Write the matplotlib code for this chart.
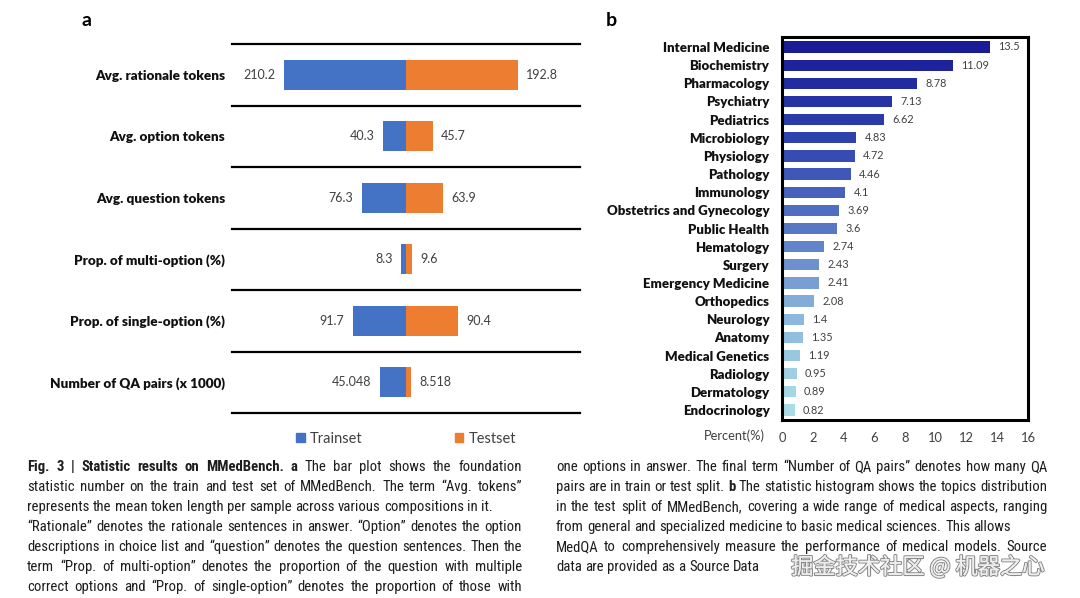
import matplotlib
matplotlib.use("Agg")
import matplotlib.pyplot as plt
import matplotlib.patheffects as pe
from matplotlib.patches import Patch
from matplotlib.colors import LinearSegmentedColormap
from matplotlib import font_manager
import numpy as np

# ---- panel a data
stat_names = ['Avg. rationale tokens', 'Avg. option tokens', 'Avg. question tokens',
              'Prop. of multi-option (%)', 'Prop. of single-option (%)',
              'Number of QA pairs (x 1000)']
train_vals = [210.2, 40.3, 76.3, 8.3, 91.7, 45.048]
test_vals = [192.8, 45.7, 63.9, 9.6, 90.4, 8.518]
series_names = ['Trainset', 'Testset']

# ---- panel b data
topics = ['Internal Medicine', 'Biochemistry', 'Pharmacology', 'Psychiatry', 'Pediatrics',
          'Microbiology', 'Physiology', 'Pathology', 'Immunology',
          'Obstetrics and Gynecology', 'Public Health', 'Hematology', 'Surgery',
          'Emergency Medicine', 'Orthopedics', 'Neurology', 'Anatomy',
          'Medical Genetics', 'Radiology', 'Dermatology', 'Endocrinology']
percents = [13.5, 11.09, 8.78, 7.13, 6.62, 4.83, 4.72, 4.46, 4.1, 3.69, 3.6,
            2.74, 2.43, 2.41, 2.08, 1.4, 1.35, 1.19, 0.95, 0.89, 0.82]
pct_ticks = [0, 2, 4, 6, 8, 10, 12, 14, 16]

# ---- caption (segments: text, bold)
caption_left = [
    [("Fig. 3 | Statistic results on MMedBench. a", True), ("The bar plot shows the foundation", False)],
    [("statistic number on the train and test set of MMedBench. The term \u201cAvg. tokens\u201d", False)],
    [("represents the mean token length per sample across various compositions in it.", False)],
    [("\u201cRationale\u201d denotes the rationale sentences in answer. \u201cOption\u201d denotes the option", False)],
    [("descriptions in choice list and \u201cquestion\u201d denotes the question sentences. Then the", False)],
    [("term \u201cProp. of multi-option\u201d denotes the proportion of the question with multiple", False)],
    [("correct options and \u201cProp. of single-option\u201d denotes the proportion of those with", False)],
]
caption_right = [
    [("one options in answer. The final term \u201cNumber of QA pairs\u201d denotes how many QA", False)],
    [("pairs are in train or test split.", False), ("b", True), ("The statistic histogram shows the topics distribution", False)],
    [("in the test split of MMedBench, covering a wide range of medical aspects, ranging", False)],
    [("from general and specialized medicine to basic medical sciences. This allows", False)],
    [("MedQA to comprehensively measure the performance of medical models. Source", False)],
    [("data are provided as a Source Data", False)],
]
watermark = "\u6398\u91d1\u6280\u672f\u793e\u533a @ \u673a\u5668\u4e4b\u5fc3"

W, H = 1080, 598
FONT = 'Lato'
TXT = '#404040'
BLUE, ORANGE = '#4472C4', '#ED7D31'

# a narrower face suits the caption better, if one is around
fonts = font_manager.fontManager.ttflist
names = {f.name for f in fonts}
CAP_FONT, CAP_STRETCH = 'Lato', 'normal'
for cand in ['Roboto Condensed', 'Liberation Sans Narrow', 'Open Sans Condensed']:
    if cand in names:
        CAP_FONT = cand
        break
else:
    for f in fonts:
        if f.name == 'DejaVu Sans' and f.stretch in ('condensed', 'semi-condensed'):
            CAP_FONT, CAP_STRETCH = 'DejaVu Sans', 'condensed'
            break

plt.rcParams['font.family'] = [FONT, 'DejaVu Sans']
fig = plt.figure(figsize=(W / 100, H / 100), dpi=100)
fig.patch.set_facecolor('white')


def box(x0, y0, x1, y1):
    return [x0 / W, 1 - y1 / H, (x1 - x0) / W, (y1 - y0) / H]


# ================= panel a =================
ax = fig.add_axes(box(232, 44, 580, 413))
y = np.arange(len(stat_names))
ax.barh(y, [-v for v in train_vals], height=0.48, color=BLUE)
ax.barh(y, test_vals, height=0.48, color=ORANGE)
for i in range(len(stat_names)):
    ax.annotate(str(train_vals[i]), (-train_vals[i], i), xytext=(-6, 0), textcoords='offset points',
                ha='right', va='center', fontsize=9, color=TXT)
    ax.annotate(str(test_vals[i]), (test_vals[i], i), xytext=(6, 0), textcoords='offset points',
                ha='left', va='center', fontsize=9, color=TXT)
for k in range(len(stat_names) + 1):
    ax.axhline(k - 0.5, color='black', lw=1.6, clip_on=False)
ax.set_xlim(-300, 300)
ax.set_ylim(len(stat_names) - 0.5, -0.5)
ax.set_yticks(y)
ax.set_yticklabels(stat_names, fontsize=9.7, fontweight='heavy', color='#111111')
ax.tick_params(axis='y', length=0, pad=5)
ax.set_xticks([])
for s in ax.spines.values():
    s.set_visible(False)
ax.legend([Patch(color=BLUE), Patch(color=ORANGE)], series_names, loc='upper center',
          bbox_to_anchor=(0.5, -0.015), ncol=2, frameon=False, fontsize=10.5,
          handlelength=0.6, handleheight=0.6, handletextpad=0.35, columnspacing=6.3,
          labelcolor=TXT)
fig.text(86 / W, 1 - 20 / H, 'a', fontsize=14, fontweight='bold', ha='center', va='center')

# ================= panel b =================
bx = fig.add_axes(box(782, 37, 1028, 420))
cmap = LinearSegmentedColormap.from_list('blues', ['#1A1C97', '#2E42AE', '#5877C6', '#8DB8DD', '#A9DDE4'])
cols = [cmap(i / (len(topics) - 1)) for i in range(len(topics))]
yb = np.arange(len(topics))
bx.barh(yb, percents, height=0.62, color=cols)
for i, v in enumerate(percents):
    bx.annotate(str(v), (v, i), xytext=(6, 0), textcoords='offset points',
                ha='left', va='center', fontsize=7.8, color=TXT)
bx.set_xlim(0, 16)
bx.set_ylim(len(topics) - 0.45, -0.55)
bx.set_xticks(pct_ticks)
bx.set_xticklabels([str(t) for t in pct_ticks], fontsize=9.3, color=TXT)
bx.set_yticks(yb)
bx.set_yticklabels(topics, fontsize=9.5, fontweight='heavy', color='#111111')
bx.tick_params(length=0)
bx.tick_params(axis='x', pad=9)
bx.tick_params(axis='y', pad=9)
for s in bx.spines.values():
    s.set_linewidth(2.2)
    s.set_color('black')
fig.text(765 / W, 1 - 436 / H, 'Percent(%)', fontsize=9.3, color=TXT, ha='right', va='center')
fig.text(611 / W, 1 - 20 / H, 'b', fontsize=14, fontweight='bold', ha='center', va='center')

# ================= caption =================
renderer = fig.canvas.get_renderer()


def words_of(line):
    out = []
    for seg, bold in line:
        out += [(w, bold) for w in seg.split(' ')]
    return out


def cap_text(x, y, s, size, bold, **kw):
    return fig.text(x, y, s, fontsize=size, fontweight='bold' if bold else 'normal',
                    family=[CAP_FONT, 'DejaVu Sans'], fontstretch=CAP_STRETCH, **kw)


def measure(s, size, bold):
    t = cap_text(0, 0, s, size, bold)
    w = t.get_window_extent(renderer).width
    t.remove()
    return w


def natural_width(line, size):
    ws = words_of(line)
    sp = measure('x x', size, False) - measure('xx', size, False)
    return sum(measure(w, size, b) for w, b in ws) + sp * (len(ws) - 1)


left_x, left_end = 27, 522
right_x, right_end = 556, 1047
left_just = [True, True, False, True, True, True, True]
right_just = [True, True, True, False, True, False]

base = 10.0
ratio = min(
    [(left_end - left_x) / natural_width(l, base) for l, j in zip(caption_left, left_just) if j] +
    [(right_end - right_x) / natural_width(l, base) for l, j in zip(caption_right, right_just) if j])
cap_size = min(11.3, base * ratio * 0.99)


def draw_caption(lines, just, x0, x1, y0):
    sp = measure('x x', cap_size, False) - measure('xx', cap_size, False)
    for k, line in enumerate(lines):
        ws = words_of(line)
        widths = [measure(w, cap_size, b) for w, b in ws]
        gap = sp
        if just[k] and len(ws) > 1:
            gap = (x1 - x0 - sum(widths)) / (len(ws) - 1)
        x = x0
        yy = y0 + 20 * k + 4
        for (w, b), wd in zip(ws, widths):
            cap_text(x / W, 1 - yy / H, w, cap_size, b, color='#1e1c1d', ha='left', va='baseline')
            x += wd + gap


draw_caption(caption_left, left_just, left_x, left_end, 467)
draw_caption(caption_right, right_just, right_x, right_end, 467)

fig.text(918 / W, 1 - 567 / H, watermark, fontsize=16, family=['Noto Sans CJK SC', 'DejaVu Sans'],
         color='#eeeeee', ha='center', va='center',
         path_effects=[pe.withStroke(linewidth=1.6, foreground='#8a8a8a'), pe.Normal()])

fig.savefig('out.png', dpi=100, facecolor='white')
